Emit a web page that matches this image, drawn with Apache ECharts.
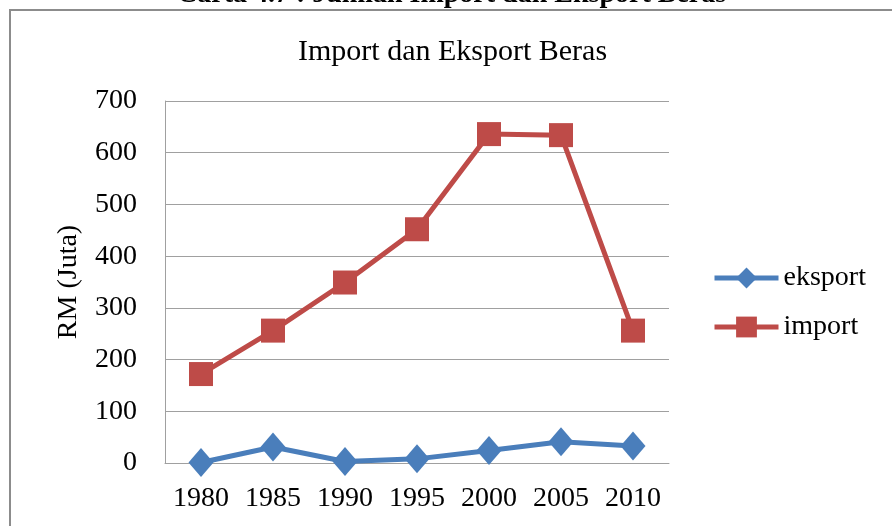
<!DOCTYPE html>
<html>
<head>
<meta charset="utf-8">
<script src="https://cdn.jsdelivr.net/npm/echarts@6/dist/echarts.min.js"></script>
<style>
  html, body { margin: 0; padding: 0; background: #fff; }
  #chart { width: 892px; height: 526px; }
</style>
</head>
<body>
<div id="chart"></div>
<script>
// data
var years = ['1980', '1985', '1990', '1995', '2000', '2005', '2010'];
var eksport = [1, 31, 3, 8, 24, 41, 33];
var importData = [172, 256, 349, 452, 636, 634, 256];
var yTicks = { min: 0, max: 700, step: 100 };

var serif = "'Liberation Serif', 'Times New Roman', serif";
var chart = echarts.init(document.getElementById('chart'));

chart.setOption({
  backgroundColor: '#ffffff',
  animation: false,
  title: {
    text: 'Import dan Eksport Beras',
    left: 298,
    top: 37,
    padding: 0,
    textStyle: { fontFamily: serif, fontSize: 30, fontWeight: 'normal', color: '#000' }
  },
  graphic: [
    {
      // caption of the figure, mostly cut off at the top edge
      type: 'text',
      left: 177,
      top: -19,
      style: { text: 'Carta 4.7 : Jumlah Import dan Eksport Beras', fontFamily: serif, fontSize: 28, fontWeight: 'bold', fill: '#000' }
    },
    {
      type: 'rect',
      shape: { x: 10, y: 10, width: 900, height: 540 },
      style: { fill: 'none', stroke: '#8c8c8c', lineWidth: 2 }
    }
  ],
  legend: {
    left: 712,
    top: 264,
    padding: 0,
    orient: 'vertical',
    itemWidth: 64,
    itemHeight: 26,
    itemGap: 21,
    lineStyle: { width: 5 },
    textStyle: { fontFamily: serif, fontSize: 28, color: '#000' },
    data: ['eksport', 'import']
  },
  grid: { left: 165, right: 223, top: 101, bottom: 63 },
  xAxis: {
    type: 'category',
    data: years,
    boundaryGap: true,
    axisLine: { lineStyle: { color: '#a0a0a0', width: 1 } },
    axisTick: { show: false },
    axisLabel: { fontFamily: serif, fontSize: 28, color: '#000', margin: 22, interval: 0 }
  },
  yAxis: {
    type: 'value',
    min: yTicks.min,
    max: yTicks.max,
    interval: yTicks.step,
    name: 'RM (Juta)',
    nameLocation: 'middle',
    nameGap: 82,
    nameRotate: 90,
    nameTextStyle: { fontFamily: serif, fontSize: 28, color: '#000' },
    axisLine: { show: true, lineStyle: { color: '#a0a0a0', width: 1 } },
    axisTick: { show: false },
    axisLabel: { fontFamily: serif, fontSize: 28, color: '#000', margin: 28 },
    splitLine: { lineStyle: { color: '#a0a0a0', width: 1 } }
  },
  series: [
    {
      name: 'eksport',
      type: 'line',
      data: eksport,
      symbol: 'diamond',
      symbolSize: [25, 29],
      lineStyle: { color: '#4a7ebb', width: 5 },
      itemStyle: { color: '#4a7ebb' }
    },
    {
      name: 'import',
      type: 'line',
      data: importData,
      symbol: 'rect',
      symbolSize: 24,
      lineStyle: { color: '#be4b48', width: 5 },
      itemStyle: { color: '#be4b48' }
    }
  ]
});
</script>
</body>
</html>
